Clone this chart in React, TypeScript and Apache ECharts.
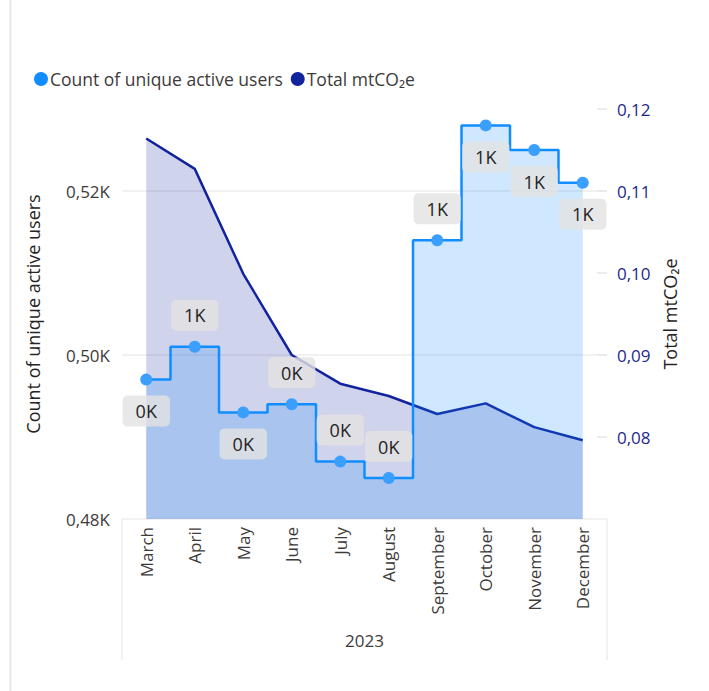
import React, { useEffect, useRef } from "react";
import * as echarts from "echarts";

const months = ["March", "April", "May", "June", "July", "August", "September", "October", "November", "December"];
const activeUsers = [497, 501, 493, 494, 487, 485, 514, 528, 525, 521];
const totalCO2 = [0.1164, 0.1127, 0.0999, 0.09, 0.0865, 0.085, 0.0828, 0.0841, 0.0812, 0.0796];
const userLabelPositions = ["bottom", "top", "bottom", "top", "top", "top", "top", "bottom", "bottom", "bottom"];
const yearLabel = "2023";

const FONT = "'Open Sans', sans-serif";
const BLUE = "#118DFF";
const DOT = "#3A9FFF";
const NAVY = "#12239E";

export default function App() {
  const ref = useRef<HTMLDivElement>(null);
  useEffect(() => {
    if (!ref.current) return;
    const chart = echarts.init(ref.current, undefined, { renderer: "svg" });
    chart.setOption({
      animation: false,
      textStyle: { fontFamily: FONT },
      legend: {
        left: 29,
        top: 65,
        itemWidth: 14,
        itemHeight: 14,
        itemGap: 8,
        icon: "circle",
        textStyle: { fontSize: 17.5, color: "#3d3b3a", fontFamily: FONT, padding: [0, 0, 0, -3] },
        data: [
          { name: "Count of unique active users", itemStyle: { color: BLUE } },
          { name: "Total mtCO₂e", itemStyle: { color: NAVY } },
        ],
      },
      grid: { left: 122, right: 102, top: 109, bottom: 172, containLabel: false },
      xAxis: {
        type: "category",
        data: months,
        boundaryGap: true,
        name: yearLabel,
        nameLocation: "middle",
        nameGap: 113,
        nameTextStyle: { fontSize: 17, color: "#3d3b3a", fontFamily: FONT },
        axisLine: { show: true, lineStyle: { color: "#eeeeee", width: 1.5 } },
        axisTick: { show: false },
        axisLabel: { rotate: 90, fontSize: 17, color: "#3d3b3a", margin: 8, fontFamily: FONT },
      },
      yAxis: [
        {
          type: "value",
          position: "left",
          min: 480,
          max: 530,
          interval: 20,
          name: "Count of unique active users",
          nameLocation: "middle",
          nameGap: 80,
          nameTextStyle: { fontSize: 18, color: "#252423", fontFamily: FONT },
          axisLine: { show: false },
          axisTick: { show: false },
          axisLabel: {
            fontSize: 17,
            color: "#3d3b3a",
            margin: 12,
            showMaxLabel: false,
            formatter: (v: number) => (v / 1000).toFixed(2).replace(".", ",") + "K",
          },
          splitLine: { show: true, showMinLine: false, showMaxLine: false, lineStyle: { color: "#ececec", width: 1.5 } },
        },
        {
          type: "value",
          position: "right",
          min: 0.07,
          max: 0.12,
          interval: 0.01,
          name: "Total mtCO₂e",
          nameLocation: "middle",
          nameGap: 54,
          nameTextStyle: { fontSize: 18, color: "#252423", fontFamily: FONT },
          axisLine: { show: false },
          axisTick: { show: true, inside: true, length: 10, lineStyle: { color: "#e6e6e6", width: 1.5 } },
          axisLabel: {
            fontSize: 17,
            color: "#1d2a8c",
            margin: 10,
            showMinLabel: false,
            formatter: (v: number) => v.toFixed(2).replace(".", ","),
          },
          splitLine: { show: false },
        },
      ],
      graphic: [
        { type: "line", shape: { x1: 10.5, y1: 0, x2: 10.5, y2: 691 }, style: { stroke: "#e8e8e8", lineWidth: 2 } },
        { type: "line", shape: { x1: 122, y1: 519, x2: 122, y2: 660 }, style: { stroke: "#eeeeee", lineWidth: 1.5 } },
        { type: "line", shape: { x1: 607, y1: 519, x2: 607, y2: 660 }, style: { stroke: "#eeeeee", lineWidth: 1.5 } },
      ],
      series: [
        {
          name: "Total mtCO₂e",
          type: "line",
          yAxisIndex: 1,
          data: totalCO2,
          showSymbol: false,
          symbol: "none",
          lineStyle: { color: NAVY, width: 2.5 },
          itemStyle: { color: NAVY },
          areaStyle: { color: NAVY, opacity: 0.2 },
          z: 2,
        },
        {
          name: "Count of unique active users",
          type: "line",
          yAxisIndex: 0,
          step: "middle",
          data: activeUsers.map((v, i) => ({ value: v, label: { position: userLabelPositions[i] } })),
          symbol: "circle",
          symbolSize: 12,
          lineStyle: { color: BLUE, width: 2.5 },
          itemStyle: { color: DOT },
          areaStyle: { color: BLUE, opacity: 0.2 },
          label: {
            show: true,
            distance: 10,
            fontSize: 18,
            color: "#252423",
            fontFamily: FONT,
            backgroundColor: "rgba(226,226,226,0.8)",
            borderRadius: 5,
            padding: [6, 13],
            lineHeight: 19,
            formatter: (p: any) => Math.round(p.value / 1000) + "K",
          },
          z: 3,
        },
      ],
    });
    return () => chart.dispose();
  }, []);
  return <div ref={ref} style={{ position: "fixed", left: 0, top: 0, width: 709, height: 691, background: "#fff" }} />;
}
